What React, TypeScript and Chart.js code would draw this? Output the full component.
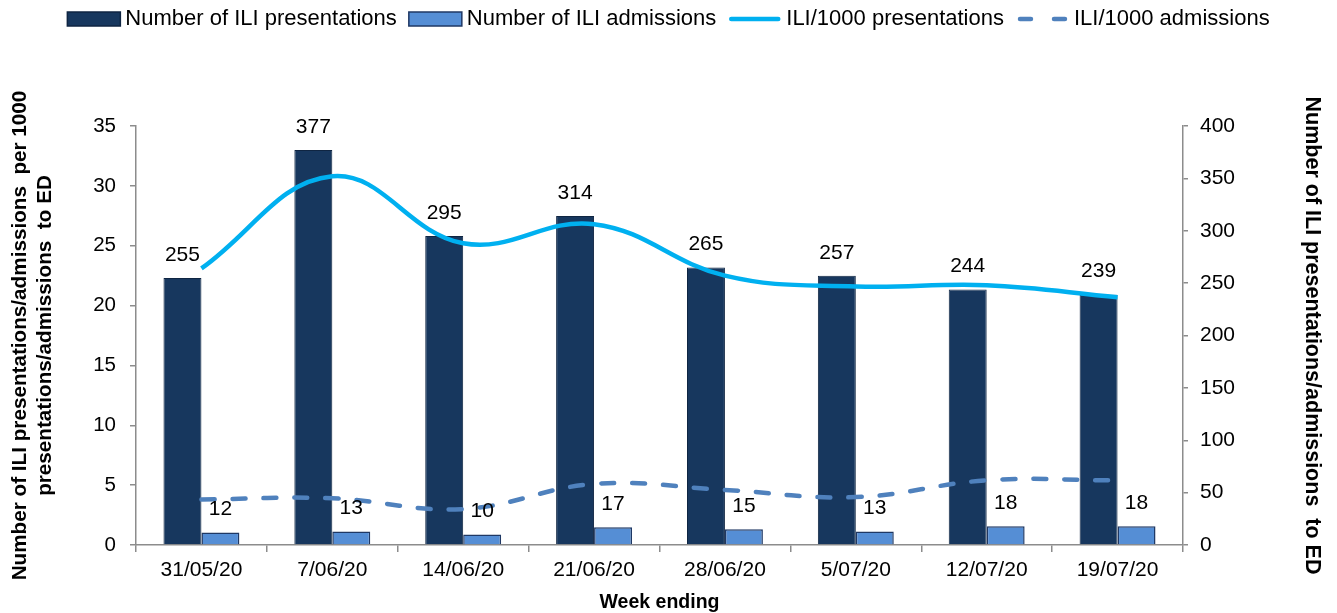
import React, { useEffect, useRef } from "react";
import { Chart, registerables } from "chart.js";

Chart.register(...registerables);

const weeks = ["31/05/20", "7/06/20", "14/06/20", "21/06/20", "28/06/20", "5/07/20", "12/07/20", "19/07/20"];
const presentations = [255, 377, 295, 314, 265, 257, 244, 239];
const admissions = [12, 13, 10, 17, 15, 13, 18, 18];
const presRate = [23.1, 30.8, 25.2, 26.8, 22.5, 21.6, 21.7, 20.7];
const admRate = [3.8, 3.9, 3.0, 5.1, 4.6, 4.0, 5.4, 5.4];

const leftMax = 35;
const leftStep = 5;
const rightMax = 400;
const rightStep = 50;

const seriesLabels = [
  "Number of ILI presentations",
  "Number of ILI admissions",
  "ILI/1000 presentations",
  "ILI/1000 admissions",
];
const leftTitle = ["Number of ILI presentations/admissions  per 1000", "presentations/admissions  to ED"];
const rightTitle = "Number of ILI presentations/admissions  to ED";
const xTitle = "Week ending";

const FONT = '"Liberation Sans", Arial, sans-serif';
const C_PRES = "#17375E";
const C_PRES_B = "#0F2542";
const C_ADM = "#558ED5";
const C_ADM_B = "#1F3864";
const C_LINE = "#00B0F0";
const C_DASH = "#4F81BD";
const AXIS = "#8C8C8C";

const barLabelPlugin = {
  id: "barLabels",
  afterDatasetsDraw(chart: any) {
    const ctx = chart.ctx;
    ctx.save();
    ctx.font = `21px ${FONT}`;
    ctx.fillStyle = "#000";
    ctx.textAlign = "center";
    ctx.textBaseline = "middle";
    chart.data.datasets.forEach((ds: any, i: number) => {
      if (ds.type !== "bar") return;
      const meta = chart.getDatasetMeta(i);
      meta.data.forEach((el: any, j: number) => {
        ctx.fillText(String(ds.data[j]), el.x, el.y - 23);
      });
    });
    ctx.restore();
  },
};

const legendPlugin = {
  id: "customLegend",
  afterDraw(chart: any) {
    const ctx = chart.ctx;
    ctx.save();
    ctx.font = `22px ${FONT}`;
    const sym = 53;
    const gapText = 5;
    const gapItem = 12;
    const ds = chart.data.datasets;
    const widths = ds.map((d: any) => sym + gapText + ctx.measureText(d.label).width);
    const total = widths.reduce((a: number, b: number) => a + b, 0) + gapItem * (ds.length - 1);
    let x = (chart.width - total) / 2;
    const y = 19;
    ds.forEach((d: any, i: number) => {
      if (d.type === "bar") {
        ctx.fillStyle = d.backgroundColor;
        ctx.fillRect(x, y - 7, sym, 14);
        ctx.strokeStyle = d.borderColor;
        ctx.lineWidth = 1.5;
        ctx.strokeRect(x, y - 7, sym, 14);
      } else {
        ctx.strokeStyle = d.borderColor;
        ctx.lineWidth = 4.5;
        ctx.lineCap = "round";
        if (d.borderDash) {
          ctx.beginPath();
          ctx.moveTo(x + 4, y);
          ctx.lineTo(x + 15, y);
          ctx.moveTo(x + sym - 15, y);
          ctx.lineTo(x + sym - 4, y);
          ctx.stroke();
        } else {
          ctx.beginPath();
          ctx.moveTo(x + 3, y);
          ctx.lineTo(x + sym - 3, y);
          ctx.stroke();
        }
      }
      ctx.fillStyle = "#000";
      ctx.textAlign = "left";
      ctx.textBaseline = "middle";
      ctx.fillText(d.label, x + sym + gapText, y);
      x += widths[i] + gapItem;
    });
    ctx.restore();
  },
};

export default function App() {
  const ref = useRef<HTMLCanvasElement | null>(null);
  useEffect(() => {
    document.body.style.margin = "0";
    document.body.style.overflow = "hidden";
    const canvas = ref.current;
    if (!canvas) return;
    const chart = new Chart(canvas, {
      type: "bar",
      data: {
        labels: weeks,
        datasets: [
          {
            type: "bar",
            label: seriesLabels[0],
            data: presentations,
            yAxisID: "y1",
            backgroundColor: C_PRES,
            borderColor: C_PRES_B,
            borderWidth: 1,
            barPercentage: 1,
            categoryPercentage: 0.58,
            order: 1,
          },
          {
            type: "bar",
            label: seriesLabels[1],
            data: admissions,
            yAxisID: "y1",
            backgroundColor: C_ADM,
            borderColor: C_ADM_B,
            borderWidth: 1.5,
            barPercentage: 1,
            categoryPercentage: 0.58,
            order: 1,
          },
          {
            type: "line",
            label: seriesLabels[2],
            data: presRate,
            yAxisID: "y",
            borderColor: C_LINE,
            backgroundColor: C_LINE,
            borderWidth: 4.5,
            pointRadius: 0,
            tension: 0.4,
            order: 0,
          },
          {
            type: "line",
            label: seriesLabels[3],
            data: admRate,
            yAxisID: "y",
            borderColor: C_DASH,
            backgroundColor: C_DASH,
            borderWidth: 4.5,
            borderDash: [13, 18],
            borderCapStyle: "round",
            pointRadius: 0,
            tension: 0.4,
            order: 0,
          },
        ] as any,
      },
      options: {
        responsive: false,
        animation: false,
        devicePixelRatio: 1,
        layout: { padding: { top: 126, left: 0, right: 0, bottom: 0 } },
        plugins: {
          legend: { display: false },
          tooltip: { enabled: false },
        },
        scales: {
          x: {
            offset: true,
            grid: {
              display: true,
              offset: true,
              drawOnChartArea: false,
              drawTicks: true,
              tickLength: 7,
              color: AXIS,
              lineWidth: 1.5,
            },
            border: { display: true, color: AXIS, width: 1.5 },
            ticks: { color: "#000", font: { family: FONT, size: 21 }, padding: 6, maxRotation: 0 },
            title: {
              display: true,
              text: xTitle,
              color: "#000",
              font: { family: FONT, size: 19.5, weight: "bold" },
              padding: { top: 0, bottom: -1 },
            },
            afterFit(scale: any) {
              scale.height = 68;
            },
          },
          y: {
            position: "left",
            min: 0,
            max: leftMax,
            ticks: { stepSize: leftStep, color: "#000", font: { family: FONT, size: 20.5 }, padding: 14 },
            grid: {
              display: true,
              drawOnChartArea: false,
              drawTicks: true,
              tickLength: 6,
              color: AXIS,
              lineWidth: 1.5,
            },
            border: { display: true, color: AXIS, width: 1.5 },
            title: {
              display: true,
              text: leftTitle,
              color: "#000",
              font: { family: FONT, size: 20.7, weight: "bold", lineHeight: 1.2 },
              padding: { top: 8, bottom: 0 },
            },
            afterFit(scale: any) {
              scale.width = 136;
            },
          },
          y1: {
            position: "right",
            min: 0,
            max: rightMax,
            ticks: { stepSize: rightStep, color: "#000", font: { family: FONT, size: 21 }, padding: 12 },
            grid: {
              display: true,
              drawOnChartArea: false,
              drawTicks: true,
              tickLength: 5,
              color: AXIS,
              lineWidth: 1.5,
            },
            border: { display: true, color: AXIS, width: 1.5 },
            title: {
              display: true,
              text: rightTitle,
              color: "#000",
              font: { family: FONT, size: 21.5, weight: "bold", lineHeight: 1.2 },
              padding: { top: 12, bottom: 0 },
            },
            afterFit(scale: any) {
              scale.width = 154;
            },
          },
        },
      } as any,
      plugins: [barLabelPlugin, legendPlugin],
    });
    return () => chart.destroy();
  }, []);
  return (
    <div style={{ width: 1337, height: 613 }}>
      <canvas ref={ref} width={1337} height={613} style={{ display: "block" }} />
    </div>
  );
}
